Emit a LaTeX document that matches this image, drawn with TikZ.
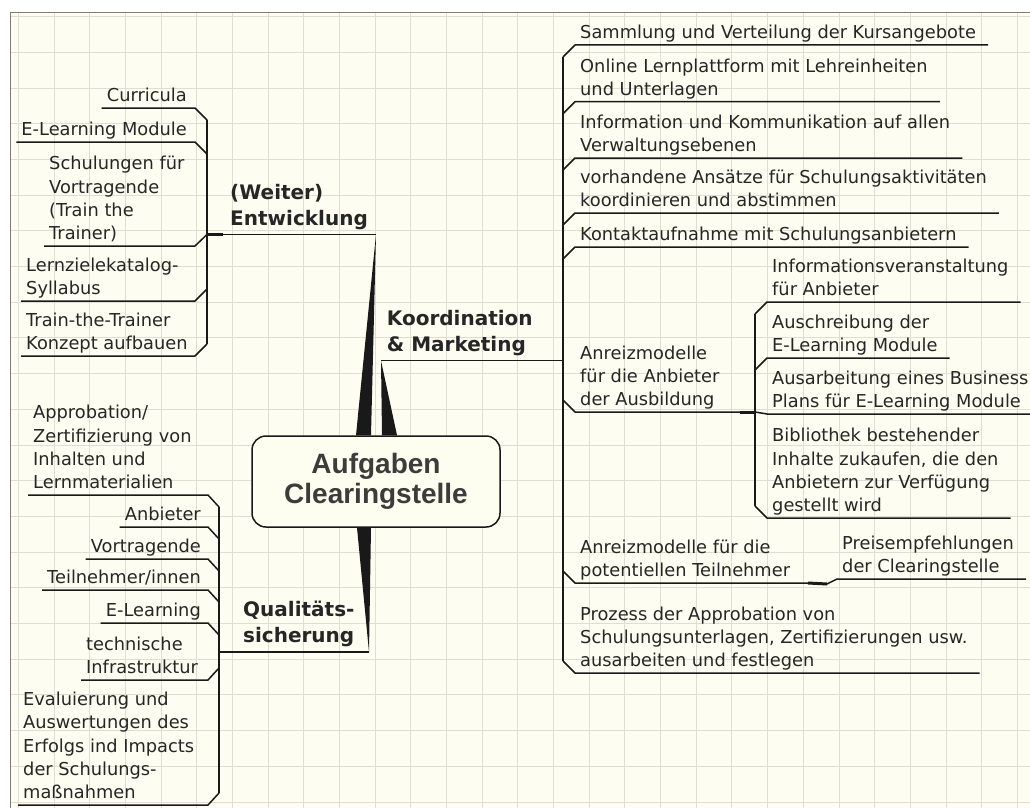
\documentclass[tikz,border=0pt]{standalone}
\usepackage{fontspec}
\setmainfont{DejaVu Sans}
\newfontfamily\rootfamily{Liberation Sans}
\definecolor{paper}{RGB}{253,253,242}
\definecolor{gridc}{RGB}{222,222,210}
\definecolor{framec}{RGB}{125,125,115}
\definecolor{ink}{RGB}{25,25,25}
\definecolor{textc}{RGB}{38,38,38}
\definecolor{rootfill}{RGB}{254,254,240}
\definecolor{roottext}{RGB}{60,60,60}
\newcommand\leaffont{\fontsize{17.8}{23.3}\selectfont}
\newcommand\branchfont{\bfseries\fontsize{20}{26}\selectfont}
\newcommand\rootfont{\rootfamily\bfseries\fontsize{28}{29.5}\selectfont}
\newcommand\leafstrut{\rule[-6pt]{0pt}{1pt}}
\newcommand\branchstrut{\rule[-9pt]{0pt}{1pt}}
\begin{document}
\begin{tikzpicture}[x=1pt,y=-1pt,
  conn/.style={draw=ink,line width=1.5pt,line join=round},
  junction/.style={draw=ink,line width=3pt},
  wedge/.style={fill=ink},
  leaf/.style={font=\leaffont,text=textc,align=left,inner xsep=5pt,inner ysep=0pt,execute at end node=\leafstrut},
  branch/.style={font=\branchfont,text=textc,align=left,inner xsep=4pt,inner ysep=0pt,execute at end node=\branchstrut},
  topic/.style={draw=ink,fill=rootfill,line width=1.5pt,rounded corners=14pt,minimum width=248pt,minimum height=91pt,align=center,font=\rootfont,text=roottext},
  gridline/.style={draw=gridc,line width=0.9pt}]
\useasboundingbox (0,0) rectangle (1030,808);
% paper with grid
\fill[white] (0,0) rectangle (1030,808);
\fill[paper] (10.7,12.3) rectangle (1030,808);
\foreach \k in {0,...,28} \draw[gridline] ({18.3+35.68*\k},12.3) -- ({18.3+35.68*\k},808);
\foreach \k in {0,...,22} \draw[gridline] (10.7,{16.6+35.7*\k}) -- (1030,{16.6+35.7*\k});
\draw[framec,line width=1.2pt] (10.7,808) -- (10.7,12.3) -- (1030,12.3);

% central topic
\node[topic] (root) at (376,481.5) {Aufgaben\\Clearingstelle};

% main branches
\coordinate (entJ) at (207,234.5);
\coordinate (entTip) at (376,234.5);
\coordinate (kooTip) at (381,360.7);
\coordinate (kooJ) at (563,360.7);
\coordinate (qualJ) at (219,652);
\coordinate (qualTip) at (369,652);
\fill[wedge] ([xshift=-20pt]root.north) -- ([xshift=-5pt]root.north) -- (entTip) -- cycle;
\fill[wedge] ([xshift=6pt]root.north) -- ([xshift=21pt]root.north) -- (kooTip) -- cycle;
\fill[wedge] ([xshift=-19pt]root.south) -- ([xshift=-5pt]root.south) -- (qualTip) -- cycle;
\node[branch,anchor=south west] (ent) at (226,234.5) {(Weiter)\\Entwicklung};
\node[branch,anchor=south west] (koo) at (382.7,360.7) {Koordination\\\&~Marketing};
\node[branch,anchor=south west] (qual) at (239,652) {Qualitäts-\\sicherung};
\draw[conn] (entJ) -- (entTip);
\draw[junction] (entJ) -- ++(16,0);
\draw[conn] (kooTip) -- (kooJ);
\draw[conn] (qualJ) -- (qualTip);

% (Weiter) Entwicklung
\coordinate (g1x) at (195,0);
\node[leaf,anchor=south east] (c1) at (192,108) {Curricula};
\node[leaf,anchor=south east] (c2) at (192,142) {E-Learning Module};
\node[leaf,anchor=south west] (c3) at (44,246) {Schulungen für\\Vortragende\\(Train the\\Trainer)};
\node[leaf,anchor=south west] (c4) at (21,301) {Lernzielekatalog-\\Syllabus};
\node[leaf,anchor=south west] (c5) at (21,356) {Train-the-Trainer\\Konzept aufbauen};
\draw[conn] (c1.south west) -- (c1.south west -| g1x) -- ++(12,12) coordinate (c1e);
\draw[conn] (c2.south west) -- (c2.south west -| g1x) -- ++(12,12);
\draw[conn] (c3.south west) -- (c3.south west -| g1x) -- (entJ);
\draw[conn] (c4.south west) -- (c4.south west -| g1x) -- ++(12,-12);
\draw[conn] (c5.south west) -- (c5.south west -| g1x) -- ++(12,-12) coordinate (c5e);
\draw[conn] (c1e) -- (c5e);

% Qualitaetssicherung
\coordinate (g2x) at (208,0);
\node[leaf,anchor=south west] (d1) at (28,495) {Approbation/\\Zertifizierung von\\Inhalten und\\Lernmaterialien};
\node[leaf,anchor=south east] (d2) at (206,527) {Anbieter};
\node[leaf,anchor=south east] (d3) at (206,559) {Vortragende};
\node[leaf,anchor=south east] (d4) at (206,590) {Teilnehmer/innen};
\node[leaf,anchor=south east] (d5) at (206,623) {E-Learning};
\node[leaf,anchor=south west] (d6) at (81,680) {technische\\Infrastruktur};
\node[leaf,anchor=south west] (d7) at (18,805) {Evaluierung und\\Auswertungen des\\Erfolgs ind Impacts\\der Schulungs-\\maßnahmen};
\draw[conn] (d1.south west) -- (d1.south west -| g2x) -- ++(11,12) coordinate (d1e);
\draw[conn] (d2.south west) -- (d2.south west -| g2x) -- ++(11,12);
\draw[conn] (d3.south west) -- (d3.south west -| g2x) -- ++(11,12);
\draw[conn] (d4.south west) -- (d4.south west -| g2x) -- ++(11,12);
\draw[conn] (d5.south west) -- (d5.south west -| g2x) -- ++(11,12);
\draw[conn] (d6.south west) -- (d6.south west -| g2x) -- ++(11,-12);
\draw[conn] (d7.south west) -- (d7.south west -| g2x) -- ++(11,-12) coordinate (d7e);
\draw[conn] (d1e) -- (d7e);

% Koordination & Marketing
\node[leaf,anchor=south west] (r1) at (575,45) {Sammlung und Verteilung der Kursangebote};
\node[leaf,anchor=south west] (r2) at (575,101.7) {Online Lernplattform mit Lehreinheiten\\und Unterlagen};
\node[leaf,anchor=south west] (r3) at (575,158) {Information und Kommunikation auf allen\\Verwaltungsebenen};
\node[leaf,anchor=south west] (r4) at (575,213) {vorhandene Ansätze für Schulungsaktivitäten\\koordinieren und abstimmen};
\node[leaf,anchor=south west] (r5) at (575,247) {Kontaktaufnahme mit Schulungsanbietern};
\node[leaf,anchor=south west] (r6) at (575,412) {Anreizmodelle\\für die Anbieter\\der Ausbildung};
\node[leaf,anchor=south west] (r7) at (575,583) {Anreizmodelle für die\\potentiellen Teilnehmer};
\node[leaf,anchor=south west] (r8) at (575,673) {Prozess der Approbation von\\Schulungsunterlagen, Zertifizierungen usw.\\ausarbeiten und festlegen};
\draw[conn] ([xshift=7pt]r1.south east) -- (r1.south west) -- ++(-12,12) coordinate (r1e);
\draw[conn] ([xshift=7pt]r2.south east) -- (r2.south west) -- ++(-12,12);
\draw[conn] ([xshift=7pt]r3.south east) -- (r3.south west) -- ++(-12,12);
\draw[conn] ([xshift=7pt]r4.south east) -- (r4.south west) -- ++(-12,12);
\draw[conn] ([xshift=7pt]r5.south east) -- (r5.south west) -- ++(-12,12);
\draw[conn] ([xshift=7pt]r8.south east) -- (r8.south west) -- ++(-12,-12) coordinate (r8e);
\draw[conn] (r1e) -- (r8e);

% incentives for providers
\coordinate (sJ) at (755,412);
\node[leaf,anchor=south west] (s1) at (767,302) {Informationsveranstaltung\\für Anbieter};
\node[leaf,anchor=south west] (s2) at (767,358) {Auschreibung der\\E-Learning Module};
\node[leaf,anchor=south west] (s3) at (767,414) {Ausarbeitung eines Business\\Plans für E-Learning Module};
\node[leaf,anchor=south west] (s4) at (767,518) {Bibliothek bestehender\\Inhalte zukaufen, die den\\Anbietern zur Verfügung\\gestellt wird};
\draw[conn] (sJ) -- (r6.south west) -- ++(-12,-12);
\draw[junction] (sJ) -- ++(-15,0);
\draw[conn] ([xshift=7pt]s1.south east) -- (s1.south west) -- ++(-12,12) coordinate (s1e);
\draw[conn] ([xshift=7pt]s2.south east) -- (s2.south west) -- ++(-12,12);
\draw[conn] ([xshift=7pt]s3.south east) -- (s3.south west) -- (sJ);
\draw[conn] ([xshift=7pt]s4.south east) -- (s4.south west) -- ++(-12,-12) coordinate (s4e);
\draw[conn] (s1e) -- (s4e);

% incentives for participants
\coordinate (r7J) at (808,583);
\coordinate (r7K) at (827,584);
\node[leaf,anchor=south west] (p1) at (837,579) {Preisempfehlungen\\der Clearingstelle};
\draw[conn] ([xshift=7pt]p1.south east) -- (p1.south west) -- (r7K) -- (r7J) -- (r7.south west) -- ++(-12,-12);
\draw[junction] (r7J) -- (r7K);
\end{tikzpicture}
\end{document}
